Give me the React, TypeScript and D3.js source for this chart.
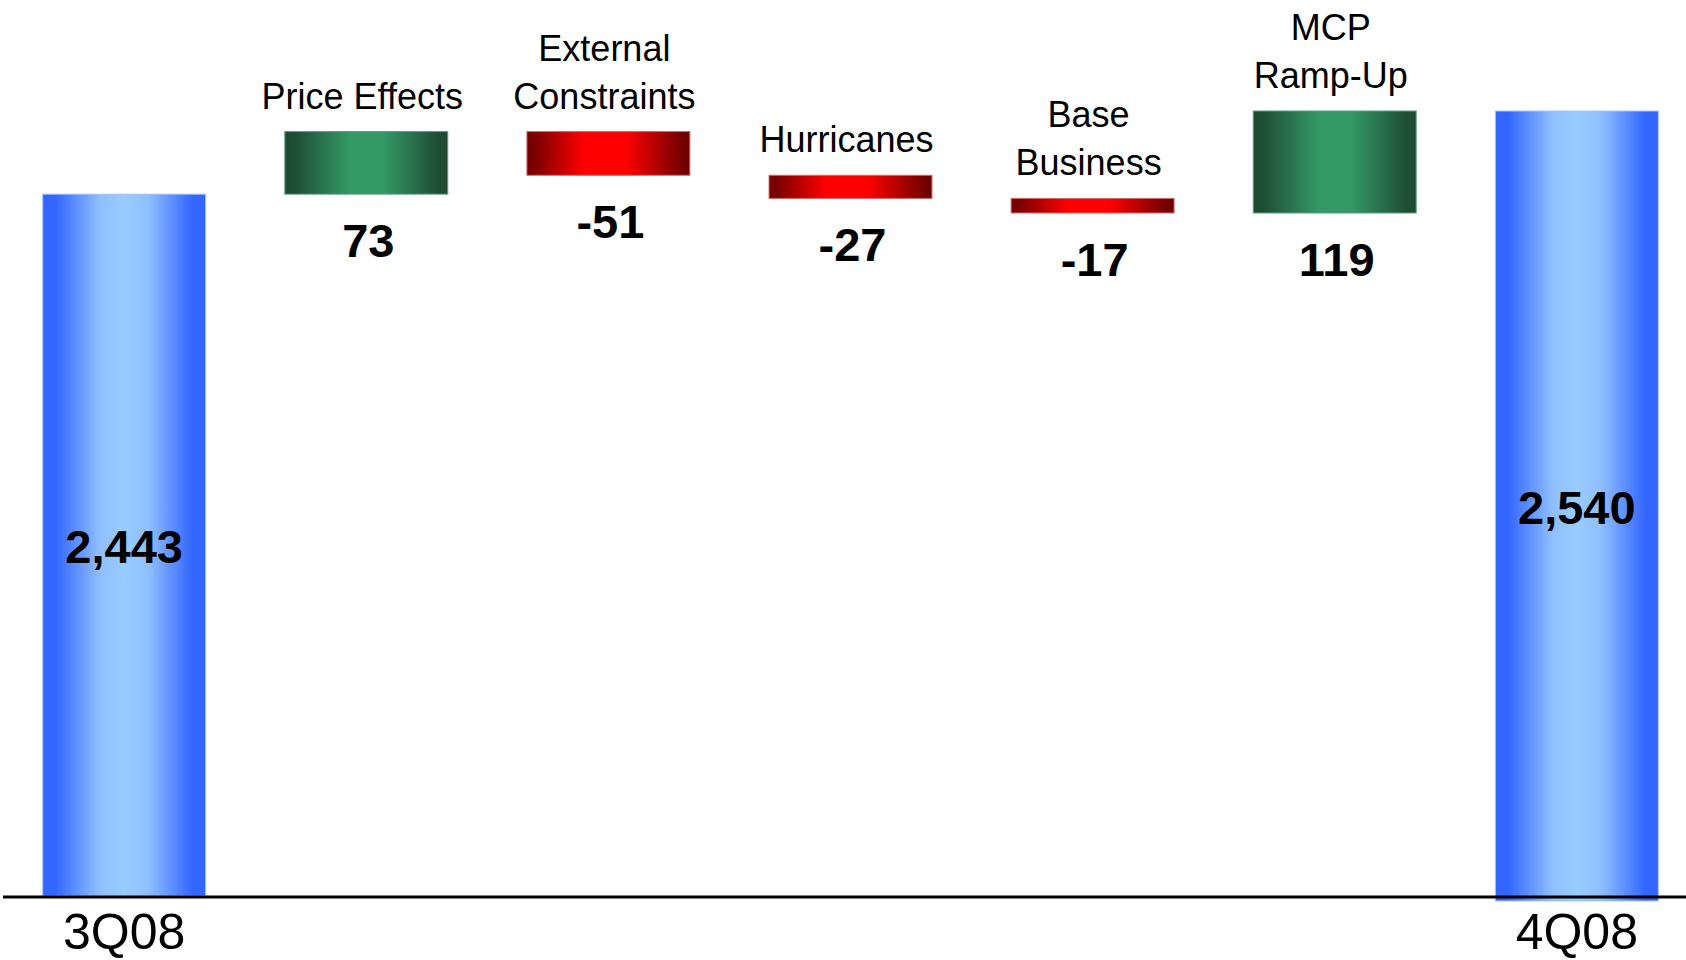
import * as d3 from 'd3';
import React from 'react';

// quarter totals
const totalLabels = ["3Q08", "4Q08"];
const totals = [2443, 2540];

// bridge items between the two quarters
const stepNames = [["Price Effects"], ["External", "Constraints"], ["Hurricanes"], ["Base", "Business"], ["MCP", "Ramp-Up"]];
const stepValues = [73, -51, -27, -17, 119];

const W = 1686;
const H = 960;
const baseY = 897;
const font = "'Liberation Sans', Arial, sans-serif";

function App() {
    const cats = [totalLabels[0], ...stepNames.map(d => d.join(" ")), totalLabels[1]];

    const x = d3.scaleBand()
        .domain(cats)
        .range([42.7, 1658.3])
        .paddingInner(0.327)
        .paddingOuter(0);

    // broken value axis: totals start at zero, the bridge region is stretched
    const y = d3.scaleLinear()
        .domain([0, 2400, 2540])
        .range([baseY - 1, 231, 111]);

    // plain hyphen for negatives, like the original slide
    const fmt = d3.formatLocale({ decimal: ".", thousands: ",", grouping: [3], currency: ["$", ""], minus: "-" }).format(",");

    //waterfall steps
    let run = totals[0];
    const steps = stepValues.map((v, i) => {
        const from = run;
        run += v;
        return { name: cats[i + 1], lines: stepNames[i], v, from, to: run };
    });

    const bw = x.bandwidth();

    return (
        <div style={{ position: "absolute", left: 0, top: 0 }}>
            <svg width={W} height={H} style={{ display: "block", background: "#fff" }}>
                <defs>
                    <linearGradient id="blue" x1="0" x2="1" y1="0" y2="0">
                        <stop offset="0" stopColor="#3366ff" />
                        <stop offset="0.08" stopColor="#3366ff" />
                        <stop offset="0.35" stopColor="#8fbfff" />
                        <stop offset="0.5" stopColor="#99ccff" />
                        <stop offset="0.65" stopColor="#8fbfff" />
                        <stop offset="0.92" stopColor="#3366ff" />
                        <stop offset="1" stopColor="#3366ff" />
                    </linearGradient>
                    <linearGradient id="green" x1="0" x2="1" y1="0" y2="0">
                        <stop offset="0" stopColor="#1e4a31" />
                        <stop offset="0.06" stopColor="#1f4d34" />
                        <stop offset="0.4" stopColor="#339966" />
                        <stop offset="0.6" stopColor="#339966" />
                        <stop offset="0.94" stopColor="#1f4d34" />
                        <stop offset="1" stopColor="#1e4a31" />
                    </linearGradient>
                    <linearGradient id="red" x1="0" x2="1" y1="0" y2="0">
                        <stop offset="0" stopColor="#700000" />
                        <stop offset="0.06" stopColor="#800000" />
                        <stop offset="0.35" stopColor="#ff0000" />
                        <stop offset="0.6" stopColor="#ff0000" />
                        <stop offset="0.94" stopColor="#7a0000" />
                        <stop offset="1" stopColor="#6a0000" />
                    </linearGradient>
                </defs>

                {/* total bars */}
                {totals.map((t, i) => {
                    const c = i === 0 ? cats[0] : cats[cats.length - 1];
                    const top = y(t);
                    const bottom = i === 0 ? baseY - 1 : baseY + 4;
                    return (
                        <g key={c}>
                            <rect x={x(c)} y={top} width={bw} height={bottom - top}
                                fill="url(#blue)" stroke="#a9c4ff" strokeWidth={1} />
                            <text x={x(c) + bw / 2} y={(top + bottom) / 2 + 18} textAnchor="middle"
                                fontFamily={font} fontWeight="bold" fontSize={47} fill="#000">
                                {fmt(t)}
                            </text>
                            <text x={x(c) + bw / 2} y={949} textAnchor="middle"
                                fontFamily={font} fontSize={50} fill="#000">
                                {c}
                            </text>
                        </g>
                    )
                })}

                {/* bridge bars */}
                {steps.map(s => {
                    const top = y(Math.max(s.from, s.to));
                    const bottom = y(Math.min(s.from, s.to));
                    const cx = x(s.name) + bw / 2;
                    return (
                        <g key={s.name}>
                            <rect x={x(s.name)} y={top} width={bw} height={bottom - top}
                                fill={s.v > 0 ? "url(#green)" : "url(#red)"}
                                stroke={s.v > 0 ? "#5c9e7c" : "#d46a6a"} strokeWidth={1} />
                            {s.lines.map((ln, j) => (
                                <text key={ln} x={cx - 4} y={top - 23 - (s.lines.length - 1 - j) * 48}
                                    textAnchor="middle" fontFamily={font} fontSize={36} fill="#000">
                                    {ln}
                                </text>
                            ))}
                            <text x={cx + 2} y={bottom + 63} textAnchor="middle"
                                fontFamily={font} fontWeight="bold" fontSize={47} fill="#000">
                                {fmt(s.v)}
                            </text>
                        </g>
                    )
                })}

                {/* baseline */}
                <line x1={3} x2={W} y1={baseY} y2={baseY} stroke="#000" strokeWidth={3} />
            </svg>
        </div>
    )
}

export default App;
